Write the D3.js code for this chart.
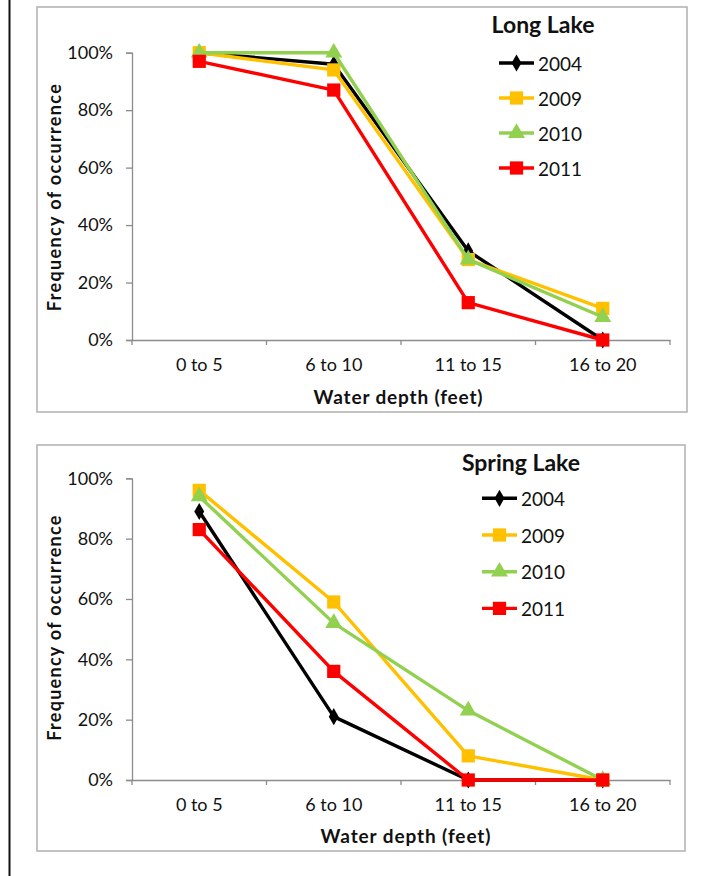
<!DOCTYPE html>
<html>
<head>
<meta charset="utf-8">
<script src="https://cdn.jsdelivr.net/npm/d3@7/dist/d3.min.js"></script>
<style>
  html, body { margin: 0; padding: 0; background: #fff; }
  svg { display: block; }
  text { font-family: Lato, "Open Sans", sans-serif; fill: #111; }
</style>
</head>
<body>
<svg id="chart" width="710" height="876"></svg>
<script>
// Water depth classes along the x axis
const categories = ["0 to 5", "6 to 10", "11 to 15", "16 to 20"];
const years = ["2004", "2009", "2010", "2011"];
const yTicks = [0, 0.2, 0.4, 0.6, 0.8, 1.0];

// Frequency of occurrence, Long Lake
const longLake2004 = [1.00, 0.96, 0.31, 0.00];
const longLake2009 = [1.00, 0.94, 0.28, 0.11];
const longLake2010 = [1.00, 1.00, 0.28, 0.08];
const longLake2011 = [0.97, 0.87, 0.13, 0.00];

// Frequency of occurrence, Spring Lake
const springLake2004 = [0.89, 0.21, 0.00, 0.00];
const springLake2009 = [0.96, 0.59, 0.08, 0.00];
const springLake2010 = [0.94, 0.52, 0.23, 0.00];
const springLake2011 = [0.83, 0.36, 0.00, 0.00];

const seriesStyle = {
  "2004": { color: "#000000", marker: "diamond" },
  "2009": { color: "#FFC000", marker: "square" },
  "2010": { color: "#92D050", marker: "triangle" },
  "2011": { color: "#FF0000", marker: "square" }
};

const panels = [
  {
    title: "Long Lake",
    values: [longLake2004, longLake2009, longLake2010, longLake2011],
    box: { x: 37, y: 7, w: 650, h: 405 },
    plot: { left: 132, right: 670, top: 52.7, bottom: 340 },
    titlePos: { x: 543, y: 33 },
    legend: { x: 499, y0: 63, step: 35 },
    xTitle: { x: 398.5, y: 396.5, w: 169 },
    yTitle: { x: 54, y: 197, w: 227 }
  },
  {
    title: "Spring Lake",
    values: [springLake2004, springLake2009, springLake2010, springLake2011],
    box: { x: 37, y: 445, w: 648, h: 406 },
    plot: { left: 132, right: 670, top: 478.3, bottom: 780 },
    titlePos: { x: 521, y: 471 },
    legend: { x: 482, y0: 498.3, step: 36.7 },
    xTitle: { x: 406, y: 835, w: 170 },
    yTitle: { x: 54, y: 627.5, w: 225 }
  }
];

const svg = d3.select("#chart");

// page edge rule on the left
svg.append("line")
  .attr("x1", 9.5).attr("x2", 9.5).attr("y1", 0).attr("y2", 876)
  .attr("stroke", "#111").attr("stroke-width", 2);

const symbolFor = {
  diamond: d3.symbol().type(d3.symbolDiamond).size(85),
  square: d3.symbol().type(d3.symbolSquare).size(175),
  triangle: d3.symbol().type(d3.symbolTriangle).size(125)
};

// spread or tighten letters so a label spans a given width
function fitWidth(sel, target) {
  const node = sel.node();
  const len = node.getComputedTextLength();
  const n = sel.text().length;
  if (n > 1) sel.attr("letter-spacing", ((target - len) / (n - 1)).toFixed(3));
}

panels.forEach(p => {
  const g = svg.append("g");

  g.append("rect")
    .attr("x", p.box.x).attr("y", p.box.y)
    .attr("width", p.box.w).attr("height", p.box.h)
    .attr("fill", "#fff").attr("stroke", "#b4b4b4").attr("stroke-width", 1.6);

  const x = d3.scaleBand().domain(categories).range([p.plot.left, p.plot.right]).padding(0);
  const y = d3.scaleLinear().domain([0, 1]).range([p.plot.bottom, p.plot.top]);

  // y axis
  const yAxis = g.append("g")
    .attr("transform", `translate(${p.plot.left},0)`)
    .call(d3.axisLeft(y).tickValues(yTicks).tickFormat(d3.format(".0%")).tickSize(6).tickPadding(13));
  yAxis.select(".domain").attr("stroke", "#8c8c8c").attr("stroke-width", 1.3);
  yAxis.selectAll(".tick line").attr("stroke", "#8c8c8c").attr("stroke-width", 1.3);
  yAxis.selectAll(".tick text")
    .attr("font-size", 18).attr("font-family", "Lato, sans-serif").attr("fill", "#111");

  // x axis with ticks on category boundaries
  const xAxis = g.append("g")
    .attr("transform", `translate(0,${p.plot.bottom})`)
    .call(d3.axisBottom(x).tickSize(0).tickPadding(18));
  xAxis.select(".domain").attr("stroke", "#8c8c8c").attr("stroke-width", 1.3);
  xAxis.selectAll(".tick text")
    .attr("font-size", 18).attr("font-family", "Lato, sans-serif").attr("fill", "#111");
  const bounds = categories.map(c => x(c)).concat([x(categories[categories.length - 1]) + x.bandwidth()]);
  xAxis.selectAll(".bound").data(bounds).join("line")
    .attr("class", "bound")
    .attr("x1", d => d).attr("x2", d => d)
    .attr("y1", 0).attr("y2", 5)
    .attr("stroke", "#8c8c8c").attr("stroke-width", 1.3);

  // axis titles
  const xt = g.append("text")
    .attr("x", p.xTitle.x).attr("y", p.xTitle.y)
    .attr("text-anchor", "middle").attr("dominant-baseline", "central")
    .attr("font-size", 19).attr("font-weight", 700)
    .text("Water depth (feet)");
  fitWidth(xt, p.xTitle.w);

  const yt = g.append("text")
    .attr("transform", `translate(${p.yTitle.x},${p.yTitle.y}) rotate(-90)`)
    .attr("text-anchor", "middle").attr("dominant-baseline", "central")
    .attr("font-size", 18).attr("font-weight", 700)
    .text("Frequency of occurrence");
  fitWidth(yt, p.yTitle.w);

  // series lines and markers
  const line = d3.line().x((d, i) => x(categories[i]) + x.bandwidth() / 2).y(d => y(d));
  years.forEach((yr, si) => {
    const st = seriesStyle[yr];
    const vals = p.values[si];
    g.append("path")
      .datum(vals)
      .attr("d", line)
      .attr("fill", "none")
      .attr("stroke", st.color)
      .attr("stroke-width", 3.4)
      .attr("stroke-linejoin", "round");
    g.selectAll(null).data(vals).join("path")
      .attr("transform", (d, i) => `translate(${x(categories[i]) + x.bandwidth() / 2},${y(d)})`)
      .attr("d", symbolFor[st.marker]())
      .attr("fill", st.color);
  });

  // legend
  g.append("text")
    .attr("x", p.titlePos.x).attr("y", p.titlePos.y)
    .attr("text-anchor", "middle")
    .attr("font-size", 23).attr("font-weight", 700)
    .text(p.title);

  years.forEach((yr, si) => {
    const st = seriesStyle[yr];
    const ly = p.legend.y0 + si * p.legend.step;
    g.append("line")
      .attr("x1", p.legend.x).attr("x2", p.legend.x + 35)
      .attr("y1", ly).attr("y2", ly)
      .attr("stroke", st.color).attr("stroke-width", 3.4);
    g.append("path")
      .attr("transform", `translate(${p.legend.x + 17.5},${ly})`)
      .attr("d", symbolFor[st.marker]())
      .attr("fill", st.color);
    g.append("text")
      .attr("x", p.legend.x + 39).attr("y", ly)
      .attr("dominant-baseline", "central")
      .attr("font-size", 19)
      .text(yr);
  });
});
</script>
</body>
</html>
